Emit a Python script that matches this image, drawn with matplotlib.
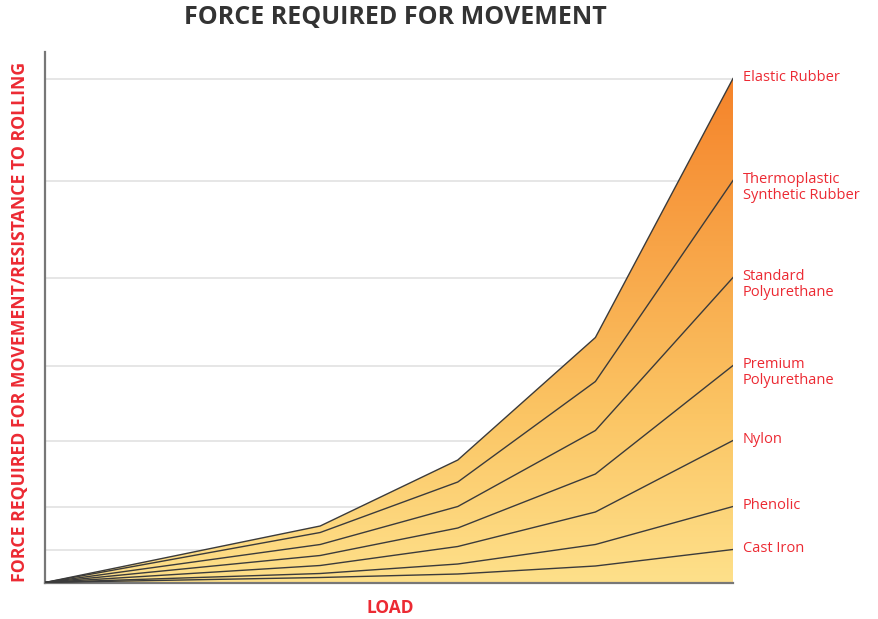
import numpy as np
import matplotlib.pyplot as plt
from matplotlib.colors import LinearSegmentedColormap
from matplotlib.patches import Polygon

# ── Data (arbitrary force units) ──────────────────────────────────────────────
load = [0, 2, 3, 4, 5]

cast_iron     = [0, 5, 8.5, 16.5, 33]
phenolic      = [0, 9, 18.5, 38, 76]
nylon         = [0, 17, 36, 70.5, 142]
premium_pu    = [0, 27, 54.5, 108.5, 217]
standard_pu   = [0, 38, 76, 152, 305]
thermoplastic = [0, 50, 100.5, 201, 402]
elastic       = [0, 56.5, 122.5, 245, 504]

series = [elastic, thermoplastic, standard_pu, premium_pu, nylon, phenolic, cast_iron]
names = ["Elastic Rubber", "Thermoplastic\nSynthetic Rubber", "Standard\nPolyurethane",
         "Premium\nPolyurethane", "Nylon", "Phenolic", "Cast Iron"]

RED = "#EC2A33"
plt.rcParams['font.family'] = ['Open Sans', 'DejaVu Sans']

fig = plt.figure(figsize=(8.79, 6.19), dpi=100)
ax = fig.add_axes([45 / 879, (619 - 582.5) / 619, (733 - 45) / 879, (582.5 - 52) / 619])
ax.set_xlim(0, 5)
ax.set_ylim(0, 530.5)

# gridlines at each series end value
ends = [s[-1] for s in series]
ax.set_yticks(ends)
ax.set_xticks([])
ax.tick_params(axis="y", length=0, labelleft=False)
ax.grid(axis="y", color="#e6e6e6", linewidth=1.4, zorder=0)
ax.set_axisbelow(True)

# gradient fill under the top curve
cmap = LinearSegmentedColormap.from_list(
    "warm", ["#FEE08A", "#FBC564", "#F8A447", "#F5832A"])
grad = np.linspace(0, 1, 256).reshape(-1, 1)
im = ax.imshow(grad, extent=[0, 5, 0, max(elastic)], origin="lower",
               aspect="auto", cmap=cmap, zorder=1)
verts = list(zip(load, elastic)) + [(load[-1], 0), (load[0], 0)]
clip = Polygon(verts, closed=True, transform=ax.transData, facecolor="none",
               edgecolor="none")
ax.add_patch(clip)
im.set_clip_path(clip)
ax.set_ylim(0, 530.5)

for s in series:
    ax.plot(load, s, color="#3b3b3b", linewidth=1.0, zorder=3)

for s, name in zip(series, names):
    ax.annotate(name, xy=(load[-1], s[-1]), xytext=(7, 6), textcoords="offset points",
                ha="left", va="top", color=RED, fontsize=10.5,
                linespacing=1.05, annotation_clip=False)

for side in ["top", "right"]:
    ax.spines[side].set_visible(False)
ax.spines["left"].set_color("#777777")
ax.spines["left"].set_linewidth(1.6)
ax.spines["bottom"].set_color("#777777")
ax.spines["bottom"].set_linewidth(1.6)

fig.text(395 / 879, 1 - 17 / 619, "FORCE REQUIRED FOR MOVEMENT", ha="center",
         va="center", fontsize=18, fontweight="bold", color="#333333")
fig.text(20 / 879, 1 - 322 / 619, "FORCE REQUIRED FOR MOVEMENT/RESISTANCE TO ROLLING",
         ha="center", va="center", rotation=90, fontsize=12.7, fontweight="bold",
         color=RED)
fig.text(390 / 879, 1 - 608 / 619, "LOAD", ha="center", va="center",
         fontsize=12.5, fontweight="bold", color=RED)

fig.savefig("out.png", dpi=100)
